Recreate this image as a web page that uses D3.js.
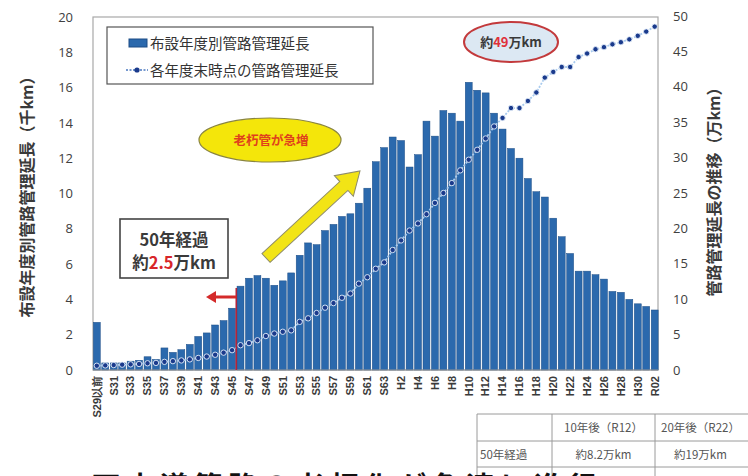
<!DOCTYPE html>
<html>
<head>
<meta charset="utf-8">
<script src="https://cdn.jsdelivr.net/npm/d3@7"></script>
<style>
  body { margin: 0; background: #fff; }
  svg { display: block; font-family: "Noto Sans CJK JP", "Noto Sans", sans-serif; }
</style>
</head>
<body>
<script>
// 年度区分
const categories = ["S29以前",
  "S30","S31","S32","S33","S34","S35","S36","S37","S38","S39",
  "S40","S41","S42","S43","S44","S45","S46","S47","S48","S49",
  "S50","S51","S52","S53","S54","S55","S56","S57","S58","S59",
  "S60","S61","S62","S63",
  "H1","H2","H3","H4","H5","H6","H7","H8","H9","H10",
  "H11","H12","H13","H14","H15","H16","H17","H18","H19","H20",
  "H21","H22","H23","H24","H25","H26","H27","H28","H29","H30",
  "R01","R02"];

// 表示する目盛ラベル（1年おき）
const tickLabels = ["S29以前","S31","S33","S35","S37","S39","S41","S43","S45","S47","S49",
  "S51","S53","S55","S57","S59","S61","S63","H2","H4","H6","H8","H10","H12","H14",
  "H16","H18","H20","H22","H24","H26","H28","H30","R02"];

// 布設年度別管路管理延長（千km）
const annualLength = [2.7,
  0.4, 0.4, 0.4, 0.5, 0.55, 0.75, 0.6, 1.25, 1.0, 1.15,
  1.45, 1.9, 2.1, 2.55, 2.8, 3.5, 4.75, 5.2, 5.35, 5.2,
  4.8, 5.05, 5.5, 6.5, 7.2, 7.1, 7.9, 8.25, 8.7, 8.85,
  9.45, 10.3, 11.8, 12.6,
  13.2, 13.0, 11.5, 12.2, 14.1, 13.25, 14.7, 14.55, 14.1, 16.3,
  15.85, 15.7, 14.55, 13.65, 12.55, 12.0, 10.85, 10.1, 9.8, 8.6,
  7.55, 6.6, 5.6, 5.6, 5.4, 5.15, 4.45, 4.4, 4.0, 3.75,
  3.6, 3.4];

// 各年度末時点の管路管理延長（万km）
const totalLength = [0.6,
  0.65, 0.7, 0.75, 0.8, 0.85, 0.95, 1.0, 1.15, 1.25, 1.35,
  1.5, 1.7, 1.9, 2.15, 2.45, 2.8, 3.5, 3.8, 4.2, 4.8,
  5.15, 5.4, 5.6, 6.8, 7.3, 8.05, 8.8, 9.45, 10.2, 10.8,
  12.2, 13.1, 14.3, 15.2,
  16.95, 18.3, 19.7, 20.7, 22.0, 23.6, 25.0, 26.4, 28.2, 29.7,
  31.1, 32.7, 34.4, 35.6, 37.0, 37.0, 38.0, 39.2, 41.3, 42.1,
  42.8, 42.8, 44.2, 44.7, 45.3, 45.6, 46.0, 46.3, 46.7, 47.2,
  47.8, 48.5];

const leftTicks = [0, 2, 4, 6, 8, 10, 12, 14, 16, 18, 20];
const rightTicks = [0, 5, 10, 15, 20, 25, 30, 35, 40, 45, 50];

const tableHeader = ["", "10年後（R12）", "20年後（R22）"];
const tableRow = ["50年経過", "約8.2万km", "約19万km"];

const width = 748, height = 476;
const plot = { left: 93, right: 658, top: 17, bottom: 370 };
const barColor = "#2b69ad";
const dotColor = "#1a3a8c";

const svg = d3.select("body").append("svg")
  .attr("width", width)
  .attr("height", height);

const x = d3.scaleBand()
  .domain(categories)
  .range([plot.left - 0.5, plot.right + 1])
  .paddingInner(0.18)
  .paddingOuter(0.1);

const yLeft = d3.scaleLinear().domain([0, 20]).range([plot.bottom, plot.top]);
const yRight = d3.scaleLinear().domain([0, 50]).range([plot.bottom, plot.top - 1]);

// plot frame
svg.append("rect")
  .attr("x", plot.left).attr("y", plot.top)
  .attr("width", plot.right - plot.left).attr("height", plot.bottom - plot.top)
  .attr("fill", "none").attr("stroke", "#a8a8a8").attr("stroke-width", 1.2);

// bars
svg.append("g").selectAll("rect")
  .data(annualLength)
  .join("rect")
  .attr("x", (d, i) => x(categories[i]))
  .attr("y", d => yLeft(d))
  .attr("width", x.bandwidth())
  .attr("height", d => yLeft(0) - yLeft(d))
  .attr("fill", barColor)
  .attr("stroke", "#1c4d85")
  .attr("stroke-width", 0.5);

// baseline
svg.append("line")
  .attr("x1", plot.left).attr("x2", plot.right)
  .attr("y1", plot.bottom).attr("y2", plot.bottom)
  .attr("stroke", "#9a9a9a");

// cumulative line
const line = d3.line()
  .x((d, i) => x(categories[i]) + x.bandwidth() / 2)
  .y(d => yRight(d));

svg.append("path")
  .datum(totalLength)
  .attr("d", line)
  .attr("fill", "none")
  .attr("stroke", "#a9cbee")
  .attr("stroke-width", 1.8)
  .attr("stroke-dasharray", "2,1.5");

svg.append("g").selectAll("circle")
  .data(totalLength)
  .join("circle")
  .attr("cx", (d, i) => x(categories[i]) + x.bandwidth() / 2)
  .attr("cy", d => yRight(d))
  .attr("r", 2.7)
  .attr("fill", dotColor)
  .attr("stroke", "#e4eefa")
  .attr("stroke-width", 0.9);

// left axis
const axL = svg.append("g")
  .attr("transform", `translate(${plot.left},0)`)
  .call(d3.axisLeft(yLeft).tickValues(leftTicks).tickSize(0).tickPadding(20));
axL.select(".domain").remove();
axL.selectAll("text").attr("font-size", 13).attr("fill", "#404040")
  .attr("font-family", "'Open Sans', 'Noto Sans', sans-serif");

// right axis
const axR = svg.append("g")
  .attr("transform", `translate(${plot.right},0)`)
  .call(d3.axisRight(yRight).tickValues(rightTicks).tickSize(0).tickPadding(15));
axR.select(".domain").remove();
axR.selectAll("text").attr("font-size", 13).attr("fill", "#404040")
  .attr("font-family", "'Open Sans', 'Noto Sans', sans-serif");

// x labels (every other year)
const axX = svg.append("g")
  .attr("transform", `translate(0,${plot.bottom})`)
  .call(d3.axisBottom(x).tickValues(tickLabels).tickSize(0).tickPadding(0));
axX.select(".domain").remove();
axX.selectAll("text")
  .attr("font-size", 11)
  .attr("font-weight", "bold")
  .attr("fill", "#3a3a3a")
  .attr("text-anchor", "end")
  .attr("dy", "0.35em")
  .attr("transform", "translate(0,6) rotate(-90)");

// axis titles
svg.append("text")
  .attr("transform", "translate(33,193) rotate(-90)")
  .attr("text-anchor", "middle")
  .attr("font-size", 16).attr("font-weight", "bold").attr("fill", "#3a3a3a")
  .text("布設年度別管路管理延長（千km）");

svg.append("text")
  .attr("transform", "translate(720,188) rotate(-90)")
  .attr("text-anchor", "middle")
  .attr("font-size", 16).attr("font-weight", "bold").attr("fill", "#3a3a3a")
  .text("管路管理延長の推移（万km）");

// legend
const lg = svg.append("g");
lg.append("rect").attr("x", 107).attr("y", 27).attr("width", 266).attr("height", 57)
  .attr("fill", "#fff").attr("stroke", "#555").attr("stroke-width", 1.2);
lg.append("rect").attr("x", 129).attr("y", 39).attr("width", 18).attr("height", 8)
  .attr("fill", barColor).attr("stroke", "#1c4d85");
lg.append("text").attr("x", 150).attr("y", 49).attr("font-size", 14.5).attr("fill", "#333")
  .text("布設年度別管路管理延長");
lg.append("line").attr("x1", 126).attr("x2", 148).attr("y1", 70).attr("y2", 70)
  .attr("stroke", "#4a78c0").attr("stroke-width", 1.6).attr("stroke-dasharray", "2,1.5");
lg.append("circle").attr("cx", 137).attr("cy", 70).attr("r", 2.6).attr("fill", dotColor);
lg.append("text").attr("x", 150).attr("y", 76).attr("font-size", 14.5).attr("fill", "#333")
  .text("各年度末時点の管路管理延長");

// yellow ellipse
svg.append("ellipse").attr("cx", 270).attr("cy", 140).attr("rx", 71).attr("ry", 22)
  .attr("fill", "#f4e60a").attr("stroke", "#8a8540").attr("stroke-width", 1.2);
svg.append("text").attr("x", 271).attr("y", 145).attr("text-anchor", "middle")
  .attr("font-size", 12.5).attr("font-weight", "bold").attr("fill", "#e0401c")
  .text("老朽管が急増");

// yellow arrow
const ax0 = 266, ay0 = 258, ax1 = 360, ay1 = 171;
const aLen = Math.hypot(ax1 - ax0, ay1 - ay0);
const aAng = Math.atan2(ay1 - ay0, ax1 - ax0) * 180 / Math.PI;
const headL = 22, shaftW = 6, headW = 14;
svg.append("path")
  .attr("transform", `translate(${ax0},${ay0}) rotate(${aAng})`)
  .attr("d", `M0,${-shaftW} L${aLen - headL},${-shaftW} L${aLen - headL},${-headW} L${aLen},0 L${aLen - headL},${headW} L${aLen - headL},${shaftW} L0,${shaftW} Z`)
  .attr("fill", "#f2e416").attr("stroke", "#8f8c6a").attr("stroke-width", 1);

// 50-year box
svg.append("rect").attr("x", 120).attr("y", 219).attr("width", 108).attr("height", 59)
  .attr("fill", "#fff").attr("stroke", "#444").attr("stroke-width", 1.6);
svg.append("text").attr("x", 174).attr("y", 246).attr("text-anchor", "middle")
  .attr("font-size", 16.5).attr("font-weight", "bold").attr("fill", "#3a3a3a")
  .text("50年経過");
const t2 = svg.append("text").attr("x", 174).attr("y", 269).attr("text-anchor", "middle")
  .attr("font-size", 16.5).attr("font-weight", "bold").attr("fill", "#3a3a3a");
t2.append("tspan").text("約");
t2.append("tspan").attr("fill", "#d8262a").text("2.5");
t2.append("tspan").text("万km");

// 50-year boundary and red arrow
const boundaryX = x("S46") - x.step() * x.paddingInner() / 2;
svg.append("line").attr("x1", boundaryX).attr("x2", boundaryX).attr("y1", 288).attr("y2", plot.bottom)
  .attr("stroke", "#b3233a").attr("stroke-width", 1.6);
svg.append("line").attr("x1", boundaryX).attr("x2", 214).attr("y1", 297).attr("y2", 297)
  .attr("stroke", "#d42a2a").attr("stroke-width", 3);
svg.append("path").attr("d", "M206,297 L216,291 L216,303 Z").attr("fill", "#d42a2a");

// 49万km ellipse
svg.append("ellipse").attr("cx", 511).attr("cy", 42).attr("rx", 47).attr("ry", 20)
  .attr("fill", "#dce8f3").attr("stroke", "#c33a3c").attr("stroke-width", 2);
const t3 = svg.append("text").attr("x", 511).attr("y", 47).attr("text-anchor", "middle")
  .attr("font-size", 13).attr("font-weight", "bold").attr("fill", "#3a3a3a");
t3.append("tspan").text("約");
t3.append("tspan").attr("fill", "#e0303a").text("49");
t3.append("tspan").text("万km");

// table (bottom right, partly cut off)
const colX = [477, 552, 655, 770];
const rowY = [414, 441, 467, 494];
const tbl = svg.append("g").attr("stroke", "#9a9a9a").attr("stroke-width", 1);
rowY.forEach(yy => tbl.append("line").attr("x1", colX[0]).attr("x2", colX[3]).attr("y1", yy).attr("y2", yy));
colX.forEach(xx => tbl.append("line").attr("x1", xx).attr("x2", xx).attr("y1", rowY[0]).attr("y2", rowY[3]));
[tableHeader, tableRow].forEach((row, r) => {
  row.forEach((txt, c) => {
    svg.append("text")
      .attr("x", c === 0 ? colX[0] + 3 : (colX[c] + colX[c + 1]) / 2 - (c === 2 ? 12 : 0))
      .attr("y", rowY[r] + 18)
      .attr("text-anchor", c === 0 ? "start" : "middle")
      .attr("font-size", 11.5).attr("fill", "#555")
      .text(txt);
  });
});

// heading below the chart (cut off by the picture edge, as in the source)
svg.append("text").attr("x", 92).attr("y", 497)
  .attr("font-size", 28).attr("font-weight", "bold").attr("fill", "#111")
  .attr("letter-spacing", 6)
  .text("下水道管路の老朽化が急速に進行");
</script>
</body>
</html>
